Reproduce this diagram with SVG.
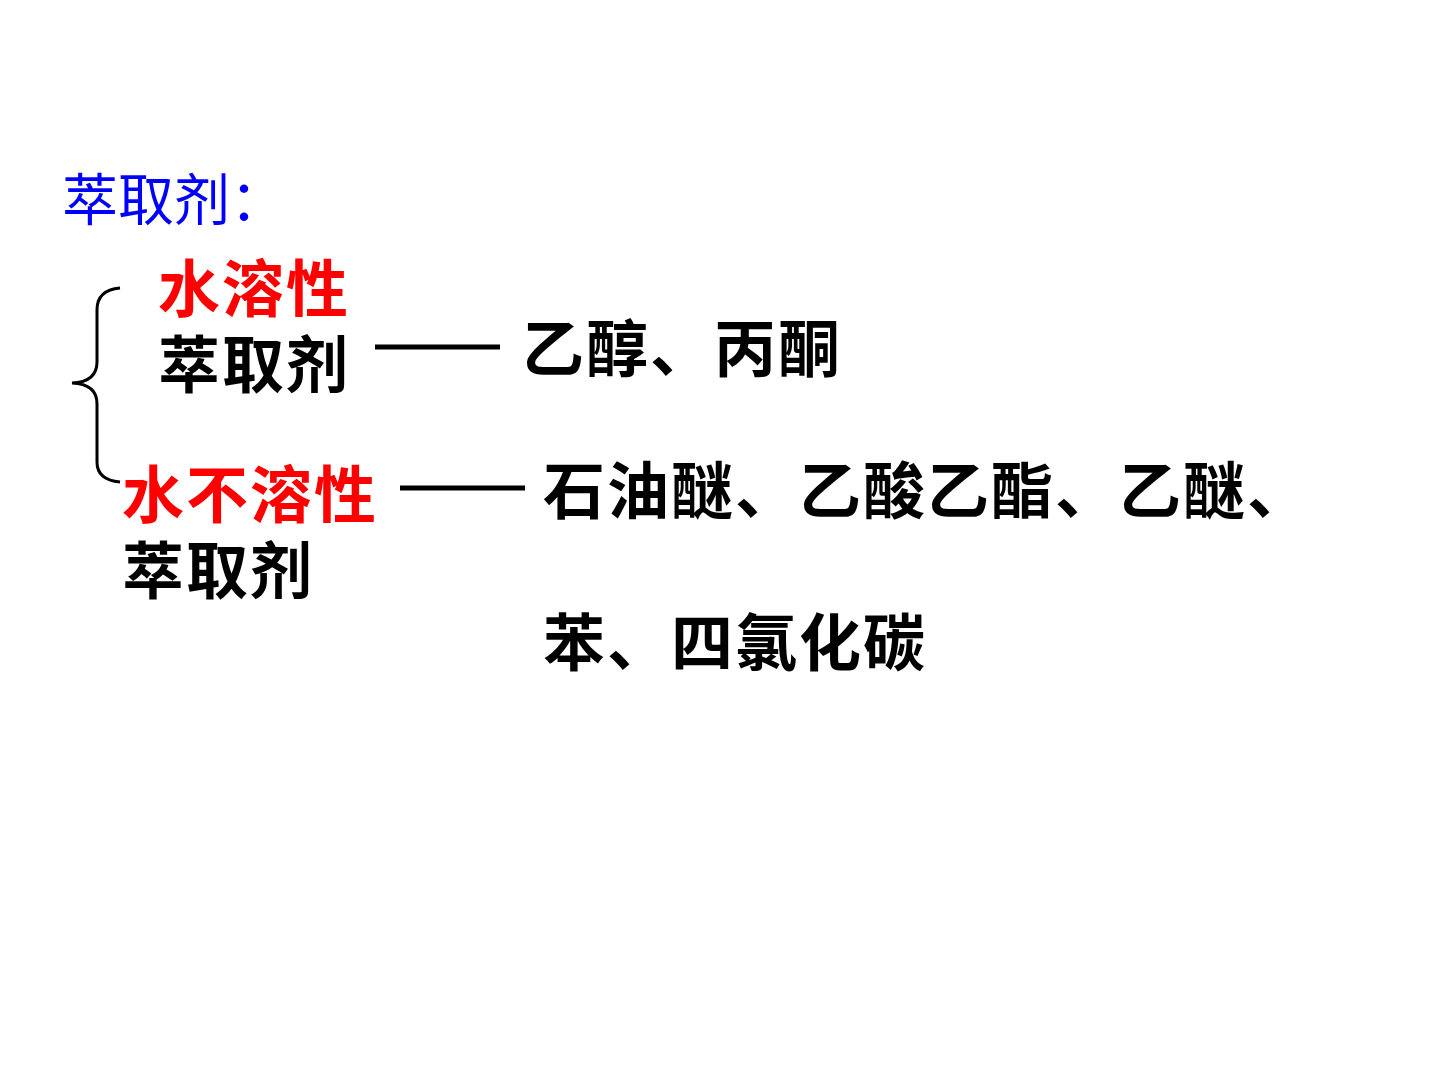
<svg xmlns="http://www.w3.org/2000/svg" width="1440" height="1080" viewBox="0 0 1440 1080">
<style>
text{font-family:"Noto Sans CJK SC","Noto Sans",sans-serif;font-size:62px}
.b{font-weight:bold;fill:#000;letter-spacing:2px}
.r{font-weight:bold;fill:#ff0000;letter-spacing:2px}
.c{stroke:#000;fill:none}
</style>
<rect width="1440" height="1080" fill="#fff"/>
<g id="title"><text x="62" y="220" fill="#0000ff" style="font-size:56px">萃取剂：</text></g>
<g id="brace"><path class="c" stroke-width="3" d="M120,288 Q97,290 97,310 L97,362 Q97,382 72,383 Q97,384 97,404 L97,462 Q97,480 120,482"/></g>
<g id="n1"><text x="158" y="312" class="r">水溶性</text><text x="158" y="388" class="b">萃取剂</text></g>
<g id="n2"><text x="122" y="518" class="r">水不溶性</text><text x="122" y="594" class="b">萃取剂</text></g>
<g id="connectors">
<line class="c" stroke-width="5" x1="375" y1="347" x2="500" y2="347"/>
<line class="c" stroke-width="5" x1="400" y1="488" x2="525" y2="488"/>
</g>
<g id="e1"><text x="522" y="372" class="b">乙醇、丙酮</text></g>
<g id="e2"><text x="543" y="514" class="b">石油醚、乙酸乙酯、乙醚、</text><text x="543" y="666" class="b">苯、四氯化碳</text></g>
</svg>
